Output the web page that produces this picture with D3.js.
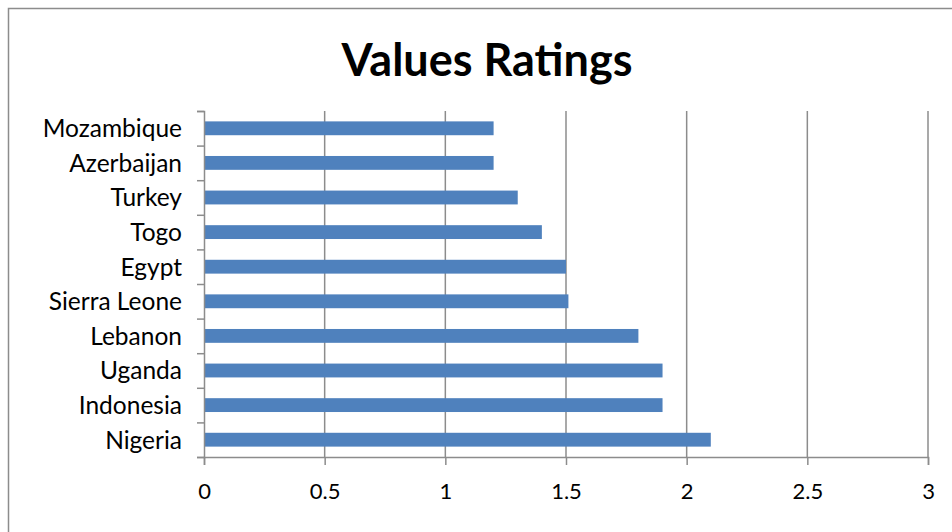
<!DOCTYPE html>
<html>
<head>
<meta charset="utf-8">
<script src="https://cdnjs.cloudflare.com/ajax/libs/d3/7.8.5/d3.min.js"></script>
<style>
  body { margin: 0; background: #fff; }
  svg { display: block; font-family: Lato, "Open Sans", sans-serif; }
</style>
</head>
<body>
<svg></svg>
<script>
var countries = ["Mozambique", "Azerbaijan", "Turkey", "Togo", "Egypt",
                 "Sierra Leone", "Lebanon", "Uganda", "Indonesia", "Nigeria"];
var ratings = [1.2, 1.2, 1.3, 1.4, 1.5, 1.51, 1.8, 1.9, 1.9, 2.1];
var xTicks = [0, 0.5, 1, 1.5, 2, 2.5, 3];

var width = 952;
var height = 532;
var plotLeft = 204, plotRight = 928, plotTop = 111, plotBottom = 457;
var gridColor = "#8c8c8c";

var data = countries.map((c, i) => ({country: c, value: ratings[i]}));

var svg = d3.select("svg")
    .attr("width", width)
    .attr("height", height);

// chart border (runs off the right and bottom edges)
svg.append("rect")
    .attr("x", 8.5)
    .attr("y", 8.5)
    .attr("width", 1000)
    .attr("height", 1000)
    .attr("fill", "none")
    .attr("stroke", gridColor)
    .attr("stroke-width", 1.5);

svg.append("text")
    .attr("x", 487)
    .attr("y", 76)
    .style("text-anchor", "middle")
    .style("font-weight", "bold")
    .style("font-size", "45px")
    .text("Values Ratings");

var xScale = d3.scaleLinear()
    .domain([0, 3])
    .range([plotLeft, plotRight]);

var yScale = d3.scaleBand()
    .domain(countries)
    .range([plotTop, plotBottom])
    .paddingInner(0.6)
    .paddingOuter(0.3);

// vertical gridlines
svg.append("g")
  .selectAll("line")
  .data(xTicks.slice(1))
  .enter()
  .append("line")
    .attr("x1", d => xScale(d))
    .attr("x2", d => xScale(d))
    .attr("y1", plotTop)
    .attr("y2", plotBottom)
    .attr("stroke", gridColor)
    .attr("stroke-width", 1.5);

svg.append("g")
  .selectAll("rect")
  .data(data)
  .enter()
  .append("rect")
    .attr("x", xScale(0))
    .attr("y", d => yScale(d.country))
    .attr("width", d => xScale(d.value) - xScale(0))
    .attr("height", yScale.bandwidth())
    .attr("fill", "#4f81bd");

var xAxis = svg.append("g")
    .attr("transform", "translate(0," + plotBottom + ")")
    .call(d3.axisBottom(xScale).tickValues(xTicks).tickSize(8).tickPadding(18)
          .tickFormat(d3.format("")));

// y axis: ticks between categories
var yAxisScale = d3.scaleLinear().domain([0, countries.length]).range([plotTop, plotBottom]);
var yAxis = svg.append("g")
    .attr("transform", "translate(" + plotLeft + ",0)")
    .call(d3.axisLeft(yAxisScale).ticks(countries.length).tickSize(7).tickFormat(""));

svg.append("g")
  .selectAll("text")
  .data(countries)
  .enter()
  .append("text")
    .attr("x", 182)
    .attr("y", d => yScale(d) + yScale.bandwidth() / 2)
    .attr("dy", "0.36em")
    .style("text-anchor", "end")
    .style("font-size", "24.5px")
    .text(d => d);

[xAxis, yAxis].forEach(a => {
  a.select(".domain").attr("stroke", gridColor).attr("stroke-width", 1.5);
  a.selectAll(".tick line").attr("stroke", gridColor).attr("stroke-width", 1.5);
  a.selectAll(".tick text").style("font-size", "22px").style("font-family", "Lato, sans-serif").attr("fill", "#000");
});
</script>
</body>
</html>
